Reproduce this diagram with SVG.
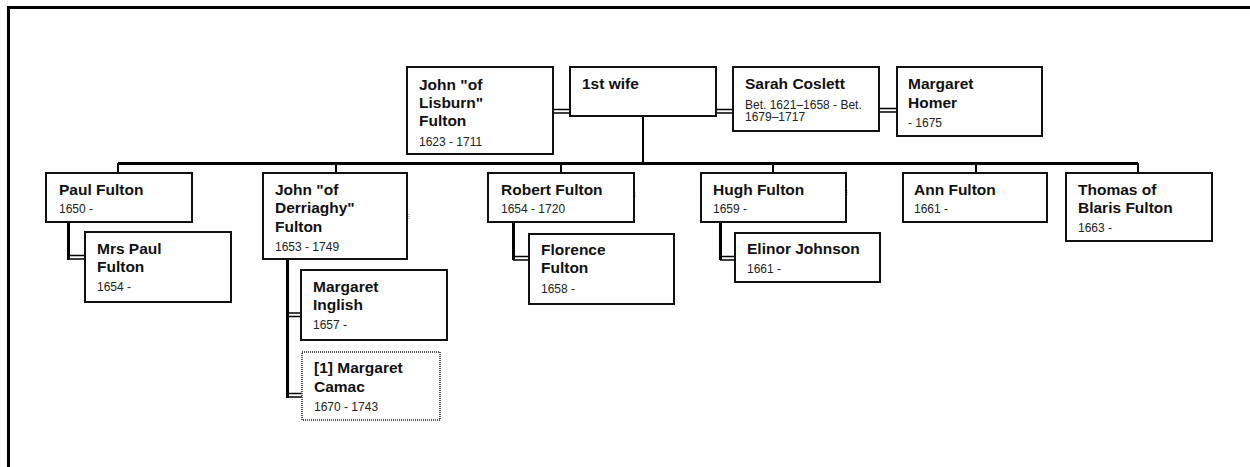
<svg xmlns="http://www.w3.org/2000/svg" width="1250" height="467" viewBox="0 0 1250 467">
  <style>
    .box { fill: #fff; stroke: #111; stroke-width: 2; }
    .dotted { fill: #fff; stroke: #555; stroke-width: 2; stroke-dasharray: 1 1; }
    .name { font-family: "Liberation Sans", Arial, sans-serif; font-size: 15.5px; font-weight: bold; fill: #111; }
    .date { font-family: "Liberation Sans", Arial, sans-serif; font-size: 12px; fill: #222; }
    .bus { stroke: #000; stroke-width: 3; fill: none; }
    .drop { stroke: #000; stroke-width: 2; fill: none; }
    .spouse { stroke: #000; stroke-width: 1.5; fill: none; }
    .frame { stroke: #000; stroke-width: 3; fill: none; }
  </style>

  <rect width="1250" height="467" fill="#fff"/>
  <!-- page frame: top and left rule -->
  <path class="frame" d="M8.5,467 V7.5 H1250"/>

  <g id="connectors">
    <!-- marriage links of the parents row -->
    <path class="spouse" d="M553,109.5 H570 M553,113 H570"/>
    <path class="spouse" d="M716,109.5 H733 M716,113 H733"/>
    <path class="spouse" d="M879,108.5 H897 M879,112 H897"/>
    <!-- descent line and sibling bus -->
    <path class="drop" d="M643,116 V163"/>
    <path class="bus" d="M118,163.5 H1138"/>
    <path class="drop" d="M118,163 V173 M336,163 V173 M561,163 V173 M773,163 V173 M976,163 V173 M1138,163 V173"/>
    <!-- spouse links of the children -->
    <path class="bus" d="M68.5,222 V260"/>
    <path class="spouse" d="M68,255.5 H85 M68,259 H85"/>
    <path class="bus" d="M287.5,259 V398"/>
    <path class="spouse" d="M287,313 H301 M287,316.5 H301"/>
    <path class="spouse" d="M287,393.5 H302 M287,397 H302"/>
    <path class="bus" d="M513.5,222 V260"/>
    <path class="spouse" d="M513,256.5 H529 M513,260 H529"/>
    <path class="bus" d="M720.5,222 V260"/>
    <path class="spouse" d="M720,256.5 H735 M720,260 H735"/>
    <!-- small stray marks beside some boxes -->
    <path d="M409,214 V219 M635,192 V197 M847,190 V195" stroke="#888" stroke-width="1" stroke-dasharray="1 1"/>
  </g>

  <g id="john-of-lisburn">
    <rect class="box" x="407" y="67" width="146" height="87"/>
    <text class="name" x="419" y="90">John "of</text>
    <text class="name" x="419" y="108">Lisburn"</text>
    <text class="name" x="419" y="126">Fulton</text>
    <text class="date" x="419" y="146">1623 - 1711</text>
  </g>
  <g id="first-wife">
    <rect class="box" x="570" y="67" width="146" height="49"/>
    <text class="name" x="582" y="89">1st wife</text>
  </g>
  <g id="sarah-coslett">
    <rect class="box" x="733" y="67" width="146" height="64"/>
    <text class="name" x="745" y="89">Sarah Coslett</text>
    <text class="date" x="745" y="109">Bet. 1621–1658 - Bet.</text>
    <text class="date" x="745" y="121">1679–1717</text>
  </g>
  <g id="margaret-homer">
    <rect class="box" x="897" y="67" width="145" height="69"/>
    <text class="name" x="908" y="89">Margaret</text>
    <text class="name" x="908" y="108">Homer</text>
    <text class="date" x="908" y="127">- 1675</text>
  </g>

  <g id="paul-fulton">
    <rect class="box" x="46" y="173" width="146" height="49"/>
    <text class="name" x="59" y="195">Paul Fulton</text>
    <text class="date" x="59" y="213">1650 -</text>
  </g>
  <g id="mrs-paul-fulton">
    <rect class="box" x="85" y="232" width="146" height="70"/>
    <text class="name" x="97" y="254">Mrs Paul</text>
    <text class="name" x="97" y="272">Fulton</text>
    <text class="date" x="97" y="291">1654 -</text>
  </g>

  <g id="john-of-derriaghy">
    <rect class="box" x="263" y="173" width="144" height="86"/>
    <text class="name" x="275" y="195">John "of</text>
    <text class="name" x="275" y="213">Derriaghy"</text>
    <text class="name" x="275" y="232">Fulton</text>
    <text class="date" x="275" y="251">1653 - 1749</text>
  </g>
  <g id="margaret-inglish">
    <rect class="box" x="301" y="270" width="146" height="70"/>
    <text class="name" x="313" y="292">Margaret</text>
    <text class="name" x="313" y="310">Inglish</text>
    <text class="date" x="313" y="329">1657 -</text>
  </g>
  <g id="margaret-camac">
    <rect class="dotted" x="302" y="352" width="138" height="68"/>
    <text class="name" x="314" y="373">[1] Margaret</text>
    <text class="name" x="314" y="392">Camac</text>
    <text class="date" x="314" y="411">1670 - 1743</text>
  </g>

  <g id="robert-fulton">
    <rect class="box" x="488" y="173" width="146" height="49"/>
    <text class="name" x="501" y="195">Robert Fulton</text>
    <text class="date" x="501" y="213">1654 - 1720</text>
  </g>
  <g id="florence-fulton">
    <rect class="box" x="529" y="234" width="145" height="70"/>
    <text class="name" x="541" y="255">Florence</text>
    <text class="name" x="541" y="273">Fulton</text>
    <text class="date" x="541" y="293">1658 -</text>
  </g>

  <g id="hugh-fulton">
    <rect class="box" x="701" y="173" width="145" height="49"/>
    <text class="name" x="713" y="195">Hugh Fulton</text>
    <text class="date" x="713" y="213">1659 -</text>
  </g>
  <g id="elinor-johnson">
    <rect class="box" x="735" y="233" width="145" height="49"/>
    <text class="name" x="747" y="254">Elinor Johnson</text>
    <text class="date" x="747" y="273">1661 -</text>
  </g>

  <g id="ann-fulton">
    <rect class="box" x="903" y="173" width="144" height="49"/>
    <text class="name" x="914" y="195">Ann Fulton</text>
    <text class="date" x="914" y="213">1661 -</text>
  </g>
  <g id="thomas-of-blaris-fulton">
    <rect class="box" x="1066" y="173" width="146" height="68"/>
    <text class="name" x="1078" y="195">Thomas of</text>
    <text class="name" x="1078" y="213">Blaris Fulton</text>
    <text class="date" x="1078" y="232">1663 -</text>
  </g>
</svg>
